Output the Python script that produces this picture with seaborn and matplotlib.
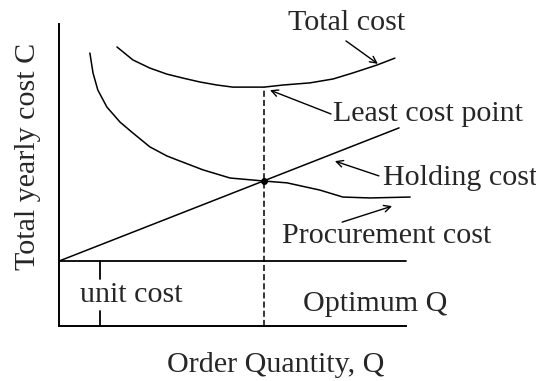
import matplotlib
matplotlib.use('Agg')
import matplotlib.pyplot as plt
import seaborn as sns

# values (Q and C in arbitrary units, axes run 0..10)
total_q = [1.67, 2.13, 2.62, 3.11, 3.57, 4.06, 4.55, 5.01, 5.91, 6.46, 7.23, 7.90, 8.47, 9.16, 9.68]
total_c = [9.24, 8.81, 8.54, 8.34, 8.21, 8.08, 7.98, 7.91, 7.91, 7.98, 8.05, 8.18, 8.38, 8.64, 8.87]

falling_q = [0.89, 0.98, 1.12, 1.38, 1.76, 2.13, 2.62, 3.11, 3.49, 4.15, 4.93, 5.91, 6.57, 7.52, 8.18, 8.96, 10.12]
falling_c = [9.04, 8.38, 7.81, 7.25, 6.75, 6.39, 5.93, 5.63, 5.46, 5.17, 4.90, 4.80, 4.74, 4.50, 4.27, 4.24, 4.27]

rising_q = [0.0, 9.80]
rising_c = [2.15, 6.56]

unit_cost = 2.15
optimum_q = 5.91
least_cost = 7.91
cross_c = 4.80
tick_q = 1.18

FS = 21.6

sns.set_theme(style='white')
plt.rcParams['font.family'] = ['Liberation Serif', 'DejaVu Serif']

fig = plt.figure(figsize=(5.36, 3.81), dpi=100)
W, H = 536, 381
ax = fig.add_axes([59 / W, (H - 326) / H, (406 - 59) / W, (326 - 24) / H])
ax.set_xlim(0, 10)
ax.set_ylim(0, 10)
ax.set_xticks([])
ax.set_yticks([])
for s in ['top', 'right']:
    ax.spines[s].set_visible(False)
for s in ['left', 'bottom']:
    ax.spines[s].set_color('black')
    ax.spines[s].set_linewidth(1.4)

lw = 1.1
sns.lineplot(x=total_q, y=total_c, color='black', lw=lw, ax=ax)
sns.lineplot(x=falling_q, y=falling_c, color='black', lw=lw, ax=ax)
sns.lineplot(x=rising_q, y=rising_c, color='black', lw=lw, ax=ax)
for line in ax.lines:
    line.set_clip_on(False)

# unit cost level and its tick
ax.plot([0, 10], [unit_cost, unit_cost], color='black', lw=1.3, clip_on=False)
ax.plot([tick_q, tick_q], [unit_cost, 1.56], color='black', lw=1.3)
ax.plot([tick_q, tick_q], [0.50, 0], color='black', lw=1.3)

# optimum Q
ax.plot([optimum_q, optimum_q], [0, least_cost], color='black', lw=1.1,
        linestyle=(0, (4, 2)))
ax.plot([optimum_q], [cross_c], marker='o', color='black', ms=4)

def label(txt, x, y, **kw):
    ax.text(x, y, txt, fontsize=FS, ha='left', va='baseline', clip_on=False, **kw)

label('Total cost', 6.60, 9.80)
label('Least cost point', 7.90, 6.79)
label('Holding cost', 9.34, 4.67)
label('Procurement cost', 6.43, 2.75)
label('Optimum Q', 7.03, 0.50)
label('unit cost', 0.61, 0.79)
label('Order Quantity, Q', 3.11, -1.52)
ax.text(-0.69, 5.60, 'Total yearly cost C', fontsize=FS, rotation=90,
        rotation_mode='anchor', ha='center', va='baseline', clip_on=False)

arrows = [
    ((8.27, 9.44), (9.19, 8.68)),
    ((7.84, 7.02), (6.08, 7.81)),
    ((9.22, 4.97), (7.95, 5.46)),
    ((8.16, 3.44), (9.60, 3.97)),
]
for start, tip in arrows:
    ax.annotate('', xy=tip, xytext=start, annotation_clip=False,
                arrowprops=dict(arrowstyle='->', color='black', lw=1.0,
                                shrinkA=0, shrinkB=0, mutation_scale=12))

fig.savefig('out.png', dpi=100, facecolor='white')
